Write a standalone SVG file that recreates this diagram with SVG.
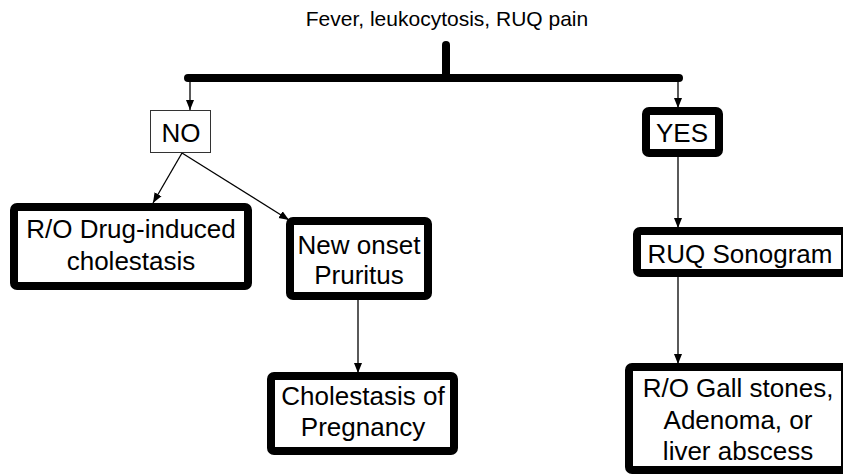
<svg xmlns="http://www.w3.org/2000/svg" width="843" height="474" viewBox="0 0 843 474">
<style>
.t{font-family:"Liberation Sans",Arial,sans-serif;font-size:26px;fill:#000;text-anchor:middle}
.title{font-size:21px}
.box{fill:#fff;stroke:#000;stroke-width:8}
.thin{fill:#fff;stroke:#333;stroke-width:1}
.c{stroke:#000;stroke-width:1.3;fill:none;marker-end:url(#ah)}
.bar{stroke:#000;stroke-width:8;stroke-linecap:round;fill:none}
</style>
<defs>
<marker id="ah" markerUnits="userSpaceOnUse" markerWidth="10" markerHeight="10" viewBox="0 0 10 10" refX="10" refY="5" orient="auto">
<path d="M0,1 L10,5 L0,9 Z" fill="#000"/>
</marker>
</defs>
<rect width="843" height="474" fill="#fff"/>
<g id="title"><text class="t title" x="447" y="26">Fever, leukocytosis, RUQ pain</text></g>
<g id="connectors">
<line class="bar" x1="446" y1="45" x2="446" y2="78"/>
<line class="bar" x1="188" y1="78" x2="679" y2="78"/>
<line class="c" x1="190" y1="78" x2="190" y2="110"/>
<line class="c" x1="678" y1="78" x2="678" y2="108"/>
<line class="c" x1="182" y1="153" x2="153" y2="203"/>
<line class="c" x1="182" y1="153" x2="289" y2="220"/>
<line class="c" x1="678" y1="157" x2="678" y2="228"/>
<line class="c" x1="678" y1="277" x2="678" y2="364"/>
<line class="c" x1="358" y1="300" x2="358" y2="373"/>
</g>
<g id="no"><rect class="thin" x="150.5" y="110.5" width="60" height="42"/><text class="t" x="181" y="142">NO</text></g>
<g id="yes"><rect class="box" x="646" y="111" width="73" height="42" rx="3"/><text class="t" x="682" y="142">YES</text></g>
<g id="drug"><rect class="box" x="14" y="207" width="234" height="79" rx="3"/><text class="t" x="131" y="238">R/O Drug-induced</text><text class="t" x="131" y="270">cholestasis</text></g>
<g id="pruritus"><rect class="box" x="290" y="221" width="138" height="75" rx="3"/><text class="t" x="359" y="254">New onset</text><text class="t" x="359" y="284">Pruritus</text></g>
<g id="pregnancy"><rect class="box" x="271" y="376" width="183" height="75" rx="3"/><text class="t" x="363" y="405">Cholestasis of</text><text class="t" x="363" y="436">Pregnancy</text></g>
<g id="sonogram"><rect class="box" x="637" y="231" width="208" height="42" rx="3"/><text class="t" x="740" y="263">RUQ Sonogram</text></g>
<g id="gall"><rect class="box" x="629" y="367" width="216" height="103" rx="3"/><text class="t" x="738" y="397">R/O Gall stones,</text><text class="t" x="738" y="429">Adenoma, or</text><text class="t" x="738" y="460">liver abscess</text></g>
</svg>
